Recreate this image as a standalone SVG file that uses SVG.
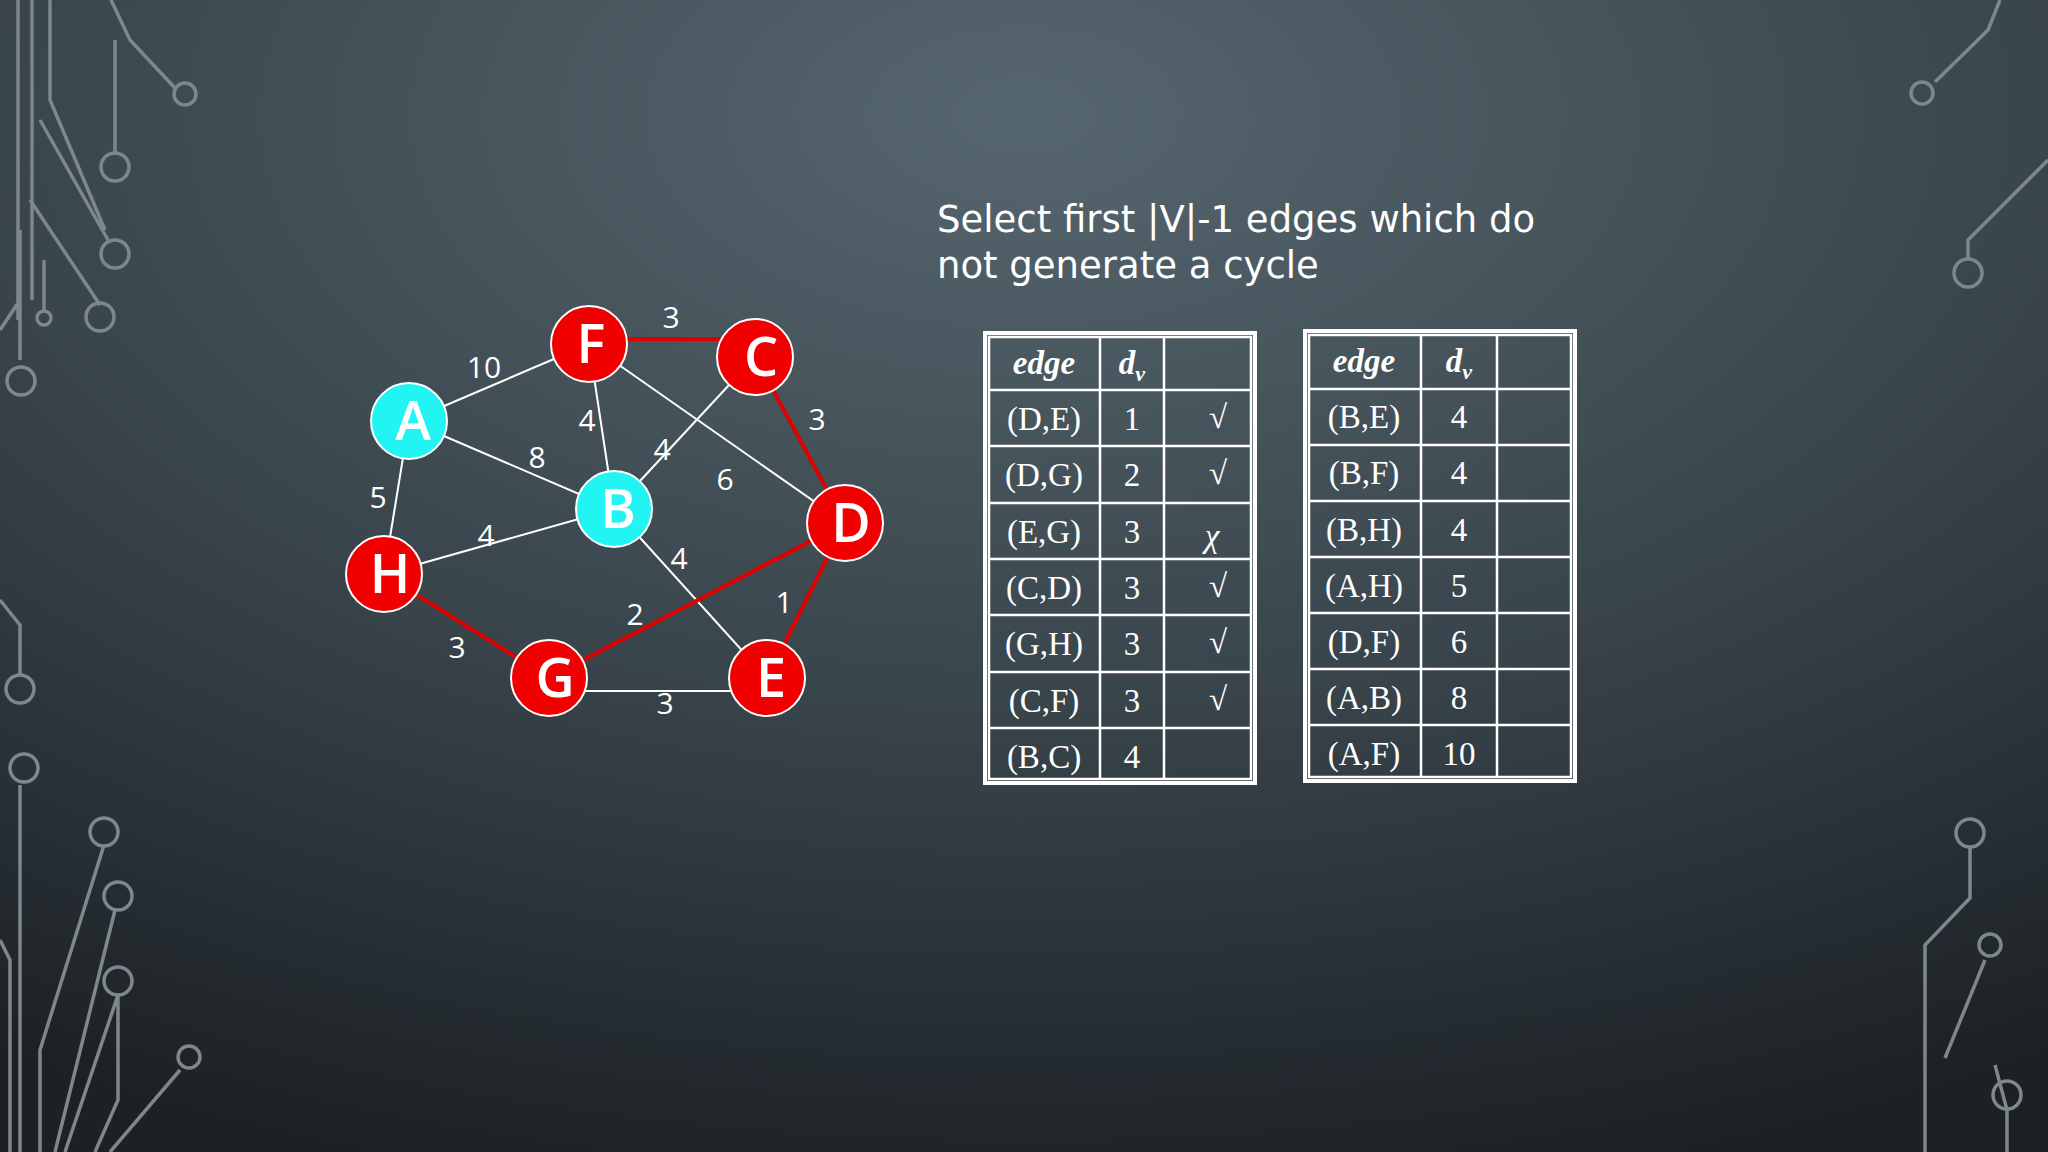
<svg xmlns="http://www.w3.org/2000/svg" width="2048" height="1152" viewBox="0 0 2048 1152">
<defs>
<radialGradient id="bg" cx="0.5" cy="0.1" r="0.95">
<stop offset="0" stop-color="#56666f"/>
<stop offset="0.5" stop-color="#3b474e"/>
<stop offset="1" stop-color="#1c2125"/>
</radialGradient>
<style>
.dec{fill:none;stroke:#7d878c;stroke-width:3.5}
.e{stroke:#fff;stroke-width:2;fill:none}
.r{stroke:#e00000;stroke-width:4;fill:none}
.red{fill:#f00000;stroke:#fff;stroke-width:2}
.cy{fill:#22f4f4;stroke:#fff;stroke-width:2}
.nl{font-family:"Open Sans","DejaVu Sans",sans-serif;font-size:54px;font-weight:600;fill:#fff;text-anchor:middle}
.w{font-family:"Open Sans","DejaVu Sans",sans-serif;font-size:30px;fill:#fff;text-anchor:middle}
.t{font-family:"Liberation Serif",serif;font-size:33px;fill:#fff;text-anchor:middle}
.ti{font-family:"DejaVu Sans",sans-serif;font-size:37px;fill:#fff}
.g{stroke:#fff;stroke-width:2.5;fill:none}
.gb{stroke:#fff;stroke-width:4;fill:none}
</style>
</defs>
<rect width="2048" height="1152" fill="url(#bg)"/>
<g id="decor" class="dec">
<path d="M18 0V320M32 0V300M50 0V100L105 230M111 0L130 40L175 88M115 40V155M40 120L108 240M30 200L100 305M20 230V360M44 260V310M0 330L20 300"/>
<circle cx="185" cy="94" r="11"/><circle cx="115" cy="167" r="14"/><circle cx="115" cy="254" r="14"/><circle cx="100" cy="317" r="14"/><circle cx="21" cy="381" r="14"/><circle cx="44" cy="318" r="7"/>
<path d="M0 600L20 625V675M20 785V1152M0 940L10 960V1152M40 1152V1050L104 845M55 1152L115 910M65 1152L118 995M95 1152L118 1100V995M110 1152L180 1070"/>
<circle cx="20" cy="689" r="14"/><circle cx="24" cy="768" r="14"/><circle cx="104" cy="832" r="14"/><circle cx="118" cy="896" r="14"/><circle cx="118" cy="981" r="14"/><circle cx="189" cy="1057" r="11"/>
<path d="M2000 0L1988 30L1935 82M2048 160L1968 240V258M1925 1152V945L1970 898V847M1945 1058L1985 960M2007 1152V1110L1995 1065"/>
<circle cx="1922" cy="93" r="11"/><circle cx="1968" cy="273" r="14"/><circle cx="1970" cy="833" r="14"/><circle cx="1990" cy="945" r="11"/><circle cx="2007" cy="1095" r="14"/>
</g>
<text class="ti" x="937" y="232">Select first |V|-1 edges which do</text>
<text class="ti" x="937" y="278">not generate a cycle</text>
<g id="connectors">
<line class="e" x1="409" y1="421" x2="589" y2="344"/>
<line class="e" x1="409" y1="421" x2="614" y2="509"/>
<line class="e" x1="409" y1="421" x2="384" y2="574"/>
<line class="e" x1="589" y1="344" x2="614" y2="509"/>
<line class="e" x1="589" y1="344" x2="845" y2="523"/>
<line class="e" x1="755" y1="357" x2="614" y2="509"/>
<line class="e" x1="384" y1="574" x2="614" y2="509"/>
<line class="e" x1="614" y1="509" x2="767" y2="678"/>
<line class="e" x1="549" y1="691" x2="767" y2="691"/>
<line class="r" x1="589" y1="339" x2="755" y2="339"/>
<line class="r" x1="755" y1="357" x2="845" y2="523"/>
<line class="r" x1="845" y1="523" x2="767" y2="678"/>
<line class="r" x1="845" y1="523" x2="549" y2="678"/>
<line class="r" x1="384" y1="574" x2="549" y2="678"/>
</g>
<g id="weights">
<text class="w" x="671" y="328">3</text><text class="w" x="484" y="378">10</text><text class="w" x="587" y="431">4</text><text class="w" x="537" y="468">8</text><text class="w" x="662" y="460">4</text><text class="w" x="725" y="490">6</text><text class="w" x="817" y="430">3</text><text class="w" x="378" y="508">5</text><text class="w" x="486" y="546">4</text><text class="w" x="679" y="569">4</text><text class="w" x="784" y="613">1</text><text class="w" x="635" y="625">2</text><text class="w" x="457" y="658">3</text><text class="w" x="665" y="714">3</text>
</g>
<g id="A"><circle class="cy" cx="409" cy="421" r="38"/><text class="nl" x="413" y="440">A</text></g>
<g id="F"><circle class="red" cx="589" cy="344" r="38"/><text class="nl" x="591" y="363">F</text></g>
<g id="C"><circle class="red" cx="755" cy="357" r="38"/><text class="nl" x="761" y="376">C</text></g>
<g id="B"><circle class="cy" cx="614" cy="509" r="38"/><text class="nl" x="618" y="528">B</text></g>
<g id="D"><circle class="red" cx="845" cy="523" r="38"/><text class="nl" x="851" y="542">D</text></g>
<g id="H"><circle class="red" cx="384" cy="574" r="38"/><text class="nl" x="390" y="593">H</text></g>
<g id="G"><circle class="red" cx="549" cy="678" r="38"/><text class="nl" x="555" y="697">G</text></g>
<g id="E"><circle class="red" cx="767" cy="678" r="38"/><text class="nl" x="771" y="697">E</text></g>
<g id="table1">
<rect class="gb" x="985" y="333" width="270" height="450"/>
<path class="g" d="M989 337V779H1251V337ZM1100 337V779M1164 337V779M989 390H1251M989 446H1251M989 503H1251M989 559H1251M989 615H1251M989 672H1251M989 728H1251"/>
<g class="t">
<text x="1044" y="374" font-style="italic" font-weight="bold">edge</text><text x="1132" y="374" font-style="italic" font-weight="bold">d<tspan font-size="22" dy="7">v</tspan></text>
<text x="1044" y="430">(D,E)</text><text x="1132" y="430">1</text><text x="1218" y="428">√</text>
<text x="1044" y="486">(D,G)</text><text x="1132" y="486">2</text><text x="1218" y="484">√</text>
<text x="1044" y="543">(E,G)</text><text x="1132" y="543">3</text><text x="1212" y="547" font-style="italic">χ</text>
<text x="1044" y="599">(C,D)</text><text x="1132" y="599">3</text><text x="1218" y="597">√</text>
<text x="1044" y="655">(G,H)</text><text x="1132" y="655">3</text><text x="1218" y="653">√</text>
<text x="1044" y="712">(C,F)</text><text x="1132" y="712">3</text><text x="1218" y="710">√</text>
<text x="1044" y="768">(B,C)</text><text x="1132" y="768">4</text>
</g>
</g>
<g id="table2">
<rect class="gb" x="1305" y="331" width="270" height="450"/>
<path class="g" d="M1309 335V777H1571V335ZM1421 335V777M1497 335V777M1309 389H1571M1309 445H1571M1309 501H1571M1309 557H1571M1309 613H1571M1309 669H1571M1309 725H1571"/>
<g class="t">
<text x="1364" y="372" font-style="italic" font-weight="bold">edge</text><text x="1459" y="372" font-style="italic" font-weight="bold">d<tspan font-size="22" dy="7">v</tspan></text>
<text x="1364" y="428">(B,E)</text><text x="1459" y="428">4</text>
<text x="1364" y="484">(B,F)</text><text x="1459" y="484">4</text>
<text x="1364" y="541">(B,H)</text><text x="1459" y="541">4</text>
<text x="1364" y="597">(A,H)</text><text x="1459" y="597">5</text>
<text x="1364" y="653">(D,F)</text><text x="1459" y="653">6</text>
<text x="1364" y="709">(A,B)</text><text x="1459" y="709">8</text>
<text x="1364" y="765">(A,F)</text><text x="1459" y="765">10</text>
</g>
</g>
</svg>
